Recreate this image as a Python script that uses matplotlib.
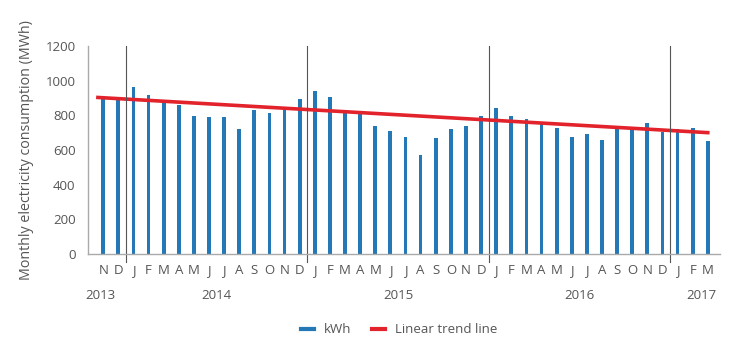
import numpy as np
import matplotlib.pyplot as plt
from matplotlib.lines import Line2D
import matplotlib.transforms as mtransforms

plt.rcParams['font.family'] = ['Open Sans', 'DejaVu Sans']

months = ["N", "D",
          "J", "F", "M", "A", "M", "J", "J", "A", "S", "O", "N", "D",
          "J", "F", "M", "A", "M", "J", "J", "A", "S", "O", "N", "D",
          "J", "F", "M", "A", "M", "J", "J", "A", "S", "O", "N", "D",
          "J", "F", "M"]
kwh = [903, 897,
       966, 916, 891, 858, 796, 788, 788, 719, 831, 813, 835, 893,
       943, 908, 823, 812, 736, 711, 676, 572, 667, 721, 736, 796,
       840, 796, 781, 750, 728, 676, 694, 659, 728, 719, 754, 705,
       719, 728, 649]
# trend line end values
trend_start = 903
trend_end = 700
years = ["2013", "2014", "2015", "2016", "2017"]
year_start = [0, 2, 14, 26, 38]
year_end = [1, 13, 25, 37, 40]

blue = "#2378b5"
red = "#e3232c"
grey = "#555555"

x = np.arange(len(kwh))
fig = plt.figure(figsize=(7.53, 3.51), dpi=100)
ax = fig.add_axes([0.117, 0.2764, 0.839, 0.5926])

ax.bar(x, kwh, width=0.25, color=blue, label="kWh")
ax.plot([-0.35, x[-1]], [trend_start, trend_end], color=red, lw=2.6,
        label="Linear trend line")

ax.set_xlim(-1, 40.8)
ax.set_ylim(0, 1200)
ax.set_yticks(range(0, 1201, 200))
ax.set_xticks(x)
ax.set_xticklabels(months)
ax.tick_params(axis="both", length=0, colors=grey, labelsize=9.5)
ax.tick_params(axis="x", pad=7)
ax.tick_params(axis="y", pad=9)
for s in ["top", "right"]:
    ax.spines[s].set_visible(False)
for s in ["left", "bottom"]:
    ax.spines[s].set_color("#aaaaaa")
    ax.spines[s].set_linewidth(1)

# year separators
trans = mtransforms.blended_transform_factory(ax.transData, ax.transAxes)
for s in year_start[1:]:
    ax.plot([s - 0.5, s - 0.5], [1.0, -0.04], color="#555555", lw=0.8,
            transform=trans, clip_on=False)

# first/last year labels sit a little off the group centre
shift = [-0.7, 0, 0, 0, 0.6]
for yr, a, b, d in zip(years, year_start, year_end, shift):
    ax.text((a + b) / 2 + d, -0.2, yr, transform=trans, ha="center",
            va="center", fontsize=9.5, color=grey)

ax.set_ylabel("Monthly electricity consumption (MWh)", fontsize=10.3,
              color=grey, labelpad=8)

handles = [Line2D([], [], color=blue, lw=3), Line2D([], [], color=red, lw=3)]
fig.legend(handles, ["kWh", "Linear trend line"], loc="center",
           bbox_to_anchor=(0.53, 0.06), ncol=2, frameon=False,
           handlelength=1.0, fontsize=9.5, labelcolor=grey, columnspacing=1.5)

fig.savefig("out.png", dpi=100)
